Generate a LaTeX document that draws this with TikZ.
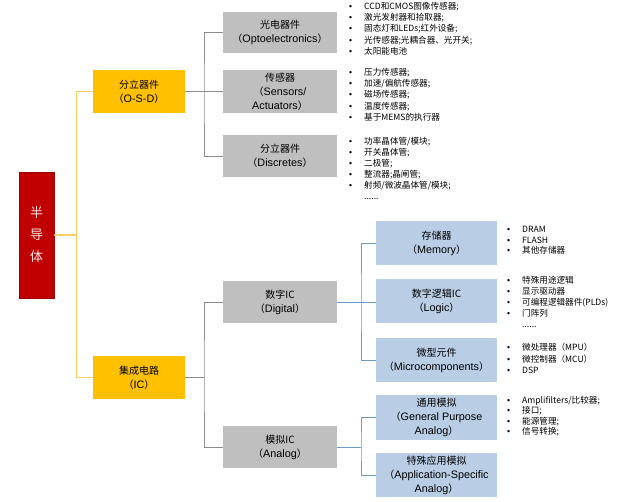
\documentclass[tikz,border=0pt]{standalone}
\usepackage{fontspec}
\setmainfont{Liberation Sans}
\newfontfamily\cjkfont{Noto Sans CJK SC}
\newcommand{\zh}[1]{{\cjkfont\fontsize{10}{14}\selectfont #1}}
\newcommand{\lp}{\zh{（}}
\newcommand{\rp}{\zh{）}}
\newcommand{\bul}{\makebox[15pt][l]{\rmfamily\textbullet}}
\definecolor{semired}{HTML}{C00000}
\definecolor{semiyellow}{HTML}{FFC000}
\definecolor{semigray}{HTML}{BFBFBF}
\definecolor{semiblue}{HTML}{B9CDE5}
\definecolor{lineyellow}{HTML}{FAD062}
\definecolor{linegray}{HTML}{8C8C8C}
\definecolor{lineblue}{HTML}{6A9BCB}
\tikzset{
  box/.style={minimum width=114pt, minimum height=42pt, inner sep=1pt, align=center, font=\fontsize{10.8}{14}\selectfont},
  redbox/.style={fill=semired, draw=semired!80!black, minimum width=35pt, minimum height=126pt, text=white!90!red, align=center, font=\cjkfont\fontsize{13}{22}\selectfont},
  osdbox/.style={box, fill=semiyellow, minimum width=92pt, minimum height=43pt},
  graybox/.style={box, fill=semigray},
  bluebox/.style={box, fill=semiblue, minimum width=121pt, minimum height=44pt},
  itemlist/.style={anchor=north west, inner sep=0pt, align=left, font=\cjkfont\fontsize{8.6}{11.2}\selectfont},
  yline/.style={draw=lineyellow, line width=1.2pt},
  gline/.style={draw=linegray, line width=1pt},
  bline/.style={draw=lineblue, line width=1pt}
}
\begin{document}
\begin{tikzpicture}[x=1pt,y=-1pt]
\fill[white] (0,0) rectangle (621,501);
\useasboundingbox (0,0) rectangle (621,501);
% root
\node[redbox] (semi) at (36.5,235) {半\\导\\体};
% second level
\node[osdbox] (osd) at (139,91.5) {\zh{分立器件}\\\lp O-S-D\rp};
\node[osdbox] (ic) at (139,377.5) {\zh{集成电路}\\\lp IC\rp};
% discrete devices
\node[graybox, minimum height=41pt] (opto) at (280,32.5) {\zh{光电器件}\\\lp Optoelectronics\rp};
\node[graybox, minimum height=43pt] (sens) at (280,91.5) {\zh{传感器}\\\lp Sensors/\\Actuators\rp};
\node[graybox] (disc) at (280,156) {\zh{分立器件}\\\lp Discretes\rp};
% integrated circuits
\node[graybox] (digital) at (280,302) {\zh{数字IC}\\\lp Digital\rp};
\node[graybox] (analog) at (280,447) {\zh{模拟IC}\\\lp Analog\rp};
\node[bluebox] (mem) at (436.5,243) {\zh{存储器}\\\lp Memory\rp};
\node[bluebox] (logic) at (436.5,301) {\zh{数字逻辑IC}\\\lp Logic\rp};
\node[bluebox] (micro) at (436.5,360) {\zh{微型元件}\\\lp Microcomponents\rp};
\node[bluebox, minimum height=45pt] (gpa) at (436.5,417.5) {\zh{通用模拟}\\\lp General Purpose\\Analog\rp};
\node[bluebox] (asa) at (436.5,475) {\zh{特殊应用模拟}\\\lp Application-Specific\\Analog\rp};
% lists
\node[itemlist] (optolist) at (349,2) {\bul CCD和CMOS图像传感器;\\\bul 激光发射器和拾取器;\\\bul 固态灯和LEDs;红外设备;\\\bul 光传感器;光耦合器、光开关;\\\bul 太阳能电池};
\node[itemlist] (senslist) at (349,68) {\bul 压力传感器;\\\bul 加速/偏航传感器;\\\bul 磁场传感器;\\\bul 温度传感器;\\\bul 基于MEMS的执行器};
\node[itemlist, font=\cjkfont\fontsize{8.6}{11}\selectfont] (disclist) at (349,137) {\bul 功率晶体管/模块;\\\bul 开关晶体管;\\\bul 二极管;\\\bul 整流器;晶闸管;\\\bul 射频/微波晶体管/模块;\\\hspace*{15pt}......};
\node[itemlist, font=\cjkfont\fontsize{8.6}{10.7}\selectfont] (memlist) at (507,226) {\bul DRAM\\\bul FLASH\\\bul 其他存储器};
\node[itemlist, font=\cjkfont\fontsize{8.6}{11}\selectfont] (logiclist) at (507,276) {\bul 特殊用途逻辑\\\bul 显示驱动器\\\bul 可编程逻辑器件(PLDs)\\\bul 门阵列\\\hspace*{15pt}......};
\node[itemlist, font=\cjkfont\fontsize{8.6}{11.5}\selectfont] (microlist) at (507,343) {\bul 微处理器（MPU）\\\bul 微控制器（MCU）\\\bul DSP};
\node[itemlist, font=\cjkfont\fontsize{8.6}{10.4}\selectfont] (gpalist) at (507,396) {\bul Amplifilters/比较器;\\\bul 接口;\\\bul 能源管理;\\\bul 信号转换;};
% trunks
\coordinate (ytrunk) at (76.5,235);
\coordinate (gtrunk1) at (204,91.5);
\coordinate (gtrunk2) at (204,377.5);
\coordinate (btrunk1) at (361,302);
\coordinate (btrunk2) at (361,447);
% connectors
\draw[yline] (semi.east) -- (ytrunk);
\draw[yline] (osd.west) -| (ytrunk) |- (ic.west);
\draw[gline] (opto.west) -| (gtrunk1) |- (disc.west);
\draw[gline] (osd.east) -- (sens.west);
\draw[gline] (digital.west) -| (gtrunk2) |- (analog.west);
\draw[gline] (ic.east) -- (gtrunk2);
\draw[bline] (mem.west) -| (btrunk1) |- (micro.west);
\draw[bline] (digital.east) -- (logic.west |- btrunk1);
\draw[bline] (gpa.west) -| (btrunk2) |- (asa.west);
\draw[bline] (analog.east) -- (btrunk2);
\end{tikzpicture}
\end{document}
